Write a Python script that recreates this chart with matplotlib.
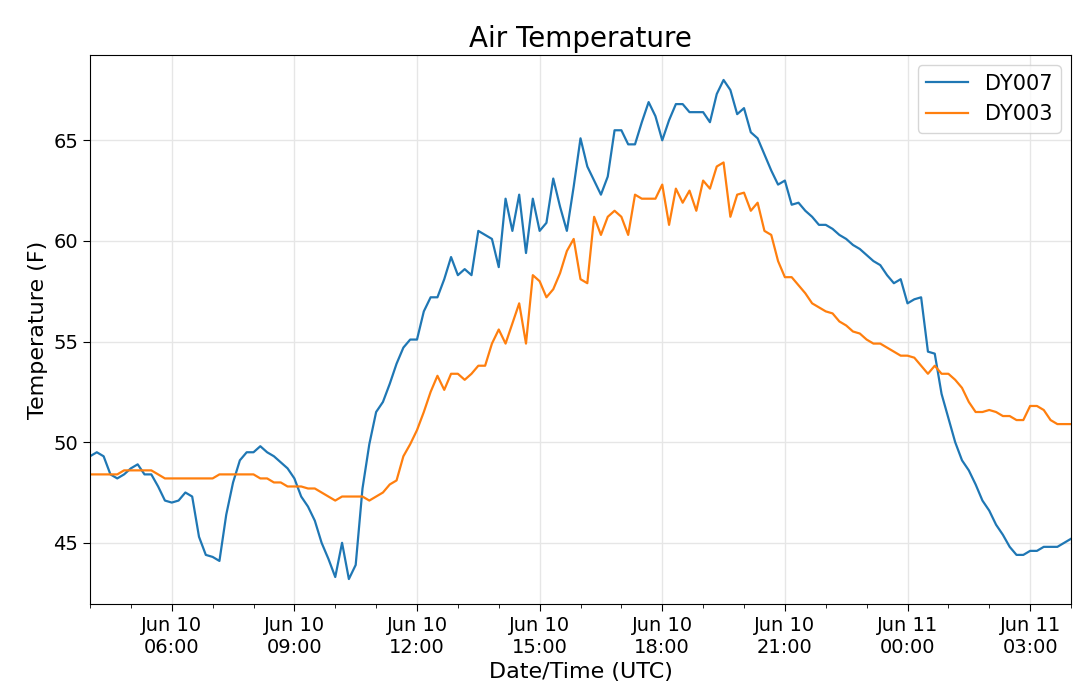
import numpy as np
import pandas as pd
import matplotlib
matplotlib.use('Agg')
import matplotlib.pyplot as plt
import matplotlib.dates as mdates

# 10-minute readings, Jun 10 04:00 -> Jun 11 04:00 (UTC)
start_time = '2019-06-10 04:00'
n_points = 145

dy007 = [49.3, 49.5, 49.3, 48.4, 48.2, 48.4, 48.7, 48.9, 48.4, 48.4,
         47.8, 47.1, 47.0, 47.1, 47.5, 47.3, 45.3, 44.4, 44.3, 44.1,
         46.4, 48.0, 49.1, 49.5, 49.5, 49.8, 49.5, 49.3, 49.0, 48.7,
         48.2, 47.3, 46.8, 46.1, 45.0, 44.2, 43.3, 45.0, 43.2, 43.9,
         47.7, 49.9, 51.5, 52.0, 52.9, 53.9, 54.7, 55.1, 55.1, 56.5,
         57.2, 57.2, 58.1, 59.2, 58.3, 58.6, 58.3, 60.5, 60.3, 60.1,
         58.7, 62.1, 60.5, 62.3, 59.4, 62.1, 60.5, 60.9, 63.1, 61.7,
         60.5, 62.7, 65.1, 63.7, 63.0, 62.3, 63.2, 65.5, 65.5, 64.8,
         64.8, 65.9, 66.9, 66.2, 65.0, 66.0, 66.8, 66.8, 66.4, 66.4,
         66.4, 65.9, 67.3, 68.0, 67.5, 66.3, 66.6, 65.4, 65.1, 64.3,
         63.5, 62.8, 63.0, 61.8, 61.9, 61.5, 61.2, 60.8, 60.8, 60.6,
         60.3, 60.1, 59.8, 59.6, 59.3, 59.0, 58.8, 58.3, 57.9, 58.1,
         56.9, 57.1, 57.2, 54.5, 54.4, 52.4, 51.2, 50.0, 49.1, 48.6,
         47.9, 47.1, 46.6, 45.9, 45.4, 44.8, 44.4, 44.4, 44.6, 44.6,
         44.8, 44.8, 44.8, 45.0, 45.2]

dy003 = [48.4, 48.4, 48.4, 48.4, 48.4, 48.6, 48.6, 48.6, 48.6, 48.6,
         48.4, 48.2, 48.2, 48.2, 48.2, 48.2, 48.2, 48.2, 48.2, 48.4,
         48.4, 48.4, 48.4, 48.4, 48.4, 48.2, 48.2, 48.0, 48.0, 47.8,
         47.8, 47.8, 47.7, 47.7, 47.5, 47.3, 47.1, 47.3, 47.3, 47.3,
         47.3, 47.1, 47.3, 47.5, 47.9, 48.1, 49.3, 49.9, 50.6, 51.5,
         52.5, 53.3, 52.6, 53.4, 53.4, 53.1, 53.4, 53.8, 53.8, 54.9,
         55.6, 54.9, 55.9, 56.9, 54.9, 58.3, 58.0, 57.2, 57.6, 58.4,
         59.5, 60.1, 58.1, 57.9, 61.2, 60.3, 61.2, 61.5, 61.2, 60.3,
         62.3, 62.1, 62.1, 62.1, 62.8, 60.8, 62.6, 61.9, 62.5, 61.5,
         63.0, 62.6, 63.7, 63.9, 61.2, 62.3, 62.4, 61.5, 61.9, 60.5,
         60.3, 59.0, 58.2, 58.2, 57.8, 57.4, 56.9, 56.7, 56.5, 56.4,
         56.0, 55.8, 55.5, 55.4, 55.1, 54.9, 54.9, 54.7, 54.5, 54.3,
         54.3, 54.2, 53.8, 53.4, 53.8, 53.4, 53.4, 53.1, 52.7, 52.0,
         51.5, 51.5, 51.6, 51.5, 51.3, 51.3, 51.1, 51.1, 51.8, 51.8,
         51.6, 51.1, 50.9, 50.9, 50.9]

times = pd.date_range(start_time, periods=n_points, freq='10min')

fig, ax = plt.subplots(figsize=(10.8, 6.94), dpi=100)
fig.subplots_adjust(left=90 / 1080, right=1071 / 1080, top=1 - 55 / 694, bottom=1 - 604 / 694)

ax.plot(times, dy007, color='#1f77b4', lw=1.6, label='DY007')
ax.plot(times, dy003, color='#ff7f0e', lw=1.6, label='DY003')

ax.set_xlim(times[0], times[-1])
ax.xaxis.set_major_locator(mdates.HourLocator(byhour=range(0, 24, 3)))
ax.xaxis.set_minor_locator(mdates.HourLocator())
ax.xaxis.set_major_formatter(mdates.DateFormatter('%b %d\n%H:%M'))
ax.set_yticks([45, 50, 55, 60, 65])

ax.grid(True, which='major', color='#e6e6e6', lw=1)
ax.tick_params(axis='both', which='major', labelsize=14, length=5)
ax.tick_params(axis='x', which='minor', length=3)

ax.set_title('Air Temperature', fontsize=20)
ax.set_xlabel('Date/Time (UTC)', fontsize=16)
ax.set_ylabel('Temperature (F)', fontsize=16)
ax.legend(loc='upper right', fontsize=15)

fig.savefig('out.png', dpi=100)
